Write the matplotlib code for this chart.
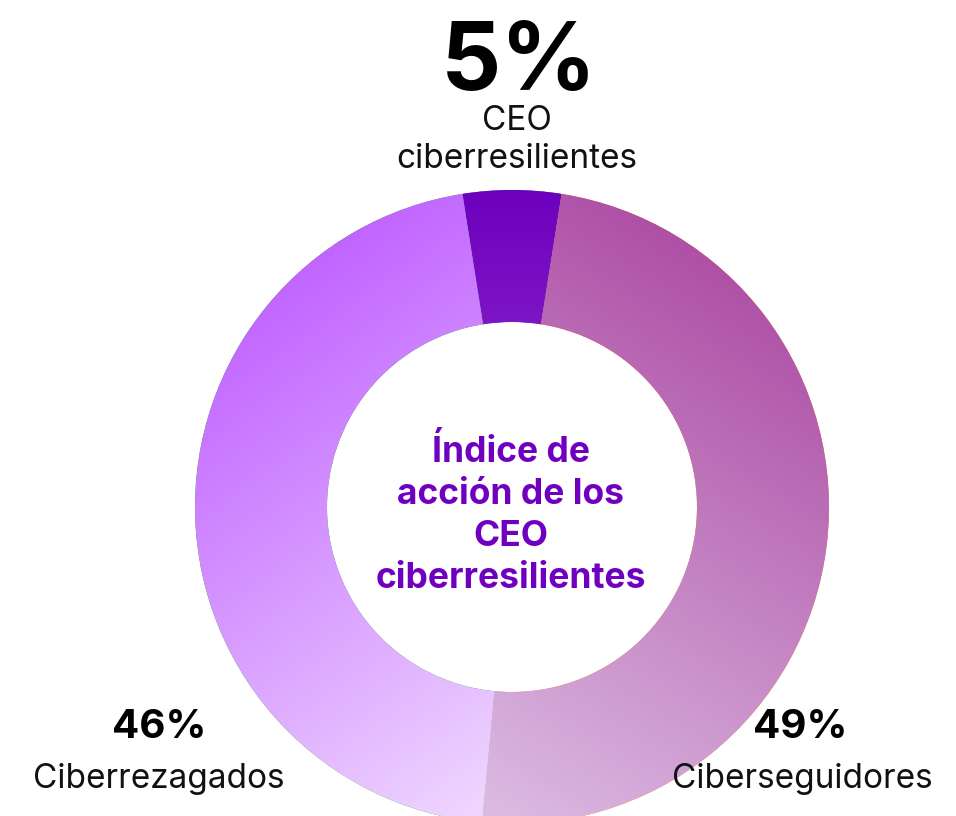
import numpy as np
import matplotlib
matplotlib.use("Agg")
import matplotlib.pyplot as plt
from matplotlib.colors import LinearSegmentedColormap

# data
labels = ["CEO\nciberresilientes", "Ciberseguidores", "Ciberrezagados"]
values = [5, 49, 46]
pct_labels = ["5%", "49%", "46%"]
center_title = "Índice de\nacción de los\nCEO\nciberresilientes"

# gradient colours per slice (start, end) and direction of the gradient
grad_colors = [("#6E00BE", "#9033CE"), ("#AE4FA6", "#DCBDE3"), ("#C163FF", "#F0D8FF")]
grad_dirs = [(0, -1), (-0.6, -1), (0.7, -1)]

plt.rcParams['font.family'] = ['Inter', 'DejaVu Sans']

W, H = 956, 816
fig = plt.figure(figsize=(W / 100, H / 100), dpi=100)
ax = fig.add_axes([0, 0, 1, 1])

cx, cy = 512, H - 507   # donut centre in pixel coords (y flipped)
R, ring = 317, 132

wedges, _ = ax.pie(values, radius=R, center=(cx, cy), startangle=99,
                   counterclock=False,
                   wedgeprops=dict(width=ring, linewidth=0))

# paint each wedge with a linear gradient clipped to its shape
for w, (c0, c1), (dx, dy) in zip(wedges, grad_colors, grad_dirs):
    cmap = LinearSegmentedColormap.from_list("g", [c0, c1])
    x0, x1, y0, y1 = cx - R, cx + R, cy - R, cy + R
    xx, yy = np.meshgrid(np.linspace(x0, x1, 400), np.linspace(y0, y1, 400))
    proj = (xx - cx) * dx + (yy - cy) * dy
    # normalise over the wedge's own extent
    path = w.get_path().vertices
    pr = (path[:, 0] - cx) * dx + (path[:, 1] - cy) * dy
    t = (proj - pr.min()) / (pr.max() - pr.min())
    im = ax.imshow(np.clip(t, 0, 1), cmap=cmap, extent=[x0, x1, y0, y1],
                   origin="lower", interpolation="bilinear", zorder=2)
    im.set_clip_path(w)

ax.set_xlim(0, W)
ax.set_ylim(0, H)
ax.set_aspect("equal")
ax.axis("off")

def py(y):
    return H - y

# top label
ax.text(519, py(90), pct_labels[0], ha="center", va="baseline",
        fontsize=68, fontweight="bold", color="black")
ax.text(517, py(130), "CEO", ha="center", va="baseline", fontsize=24, color="#111111")
ax.text(517, py(168), "ciberresilientes", ha="center", va="baseline", fontsize=24, color="#111111")

# bottom right
ax.text(800, py(738), pct_labels[1], ha="center", va="baseline",
        fontsize=29, fontweight="bold", color="black")
ax.text(802, py(788), labels[1], ha="center", va="baseline", fontsize=24, color="#111111")

# bottom left
ax.text(159, py(738), pct_labels[2], ha="center", va="baseline",
        fontsize=29, fontweight="bold", color="black")
ax.text(159, py(788), labels[2], ha="center", va="baseline", fontsize=24, color="#111111")

# centre text
for i, line in enumerate(center_title.split("\n")):
    ax.text(511, py(462 + i * 42), line, ha="center", va="baseline",
            fontsize=25.5, fontweight="bold", color="#7000C0")

fig.savefig("out.png", dpi=100)
